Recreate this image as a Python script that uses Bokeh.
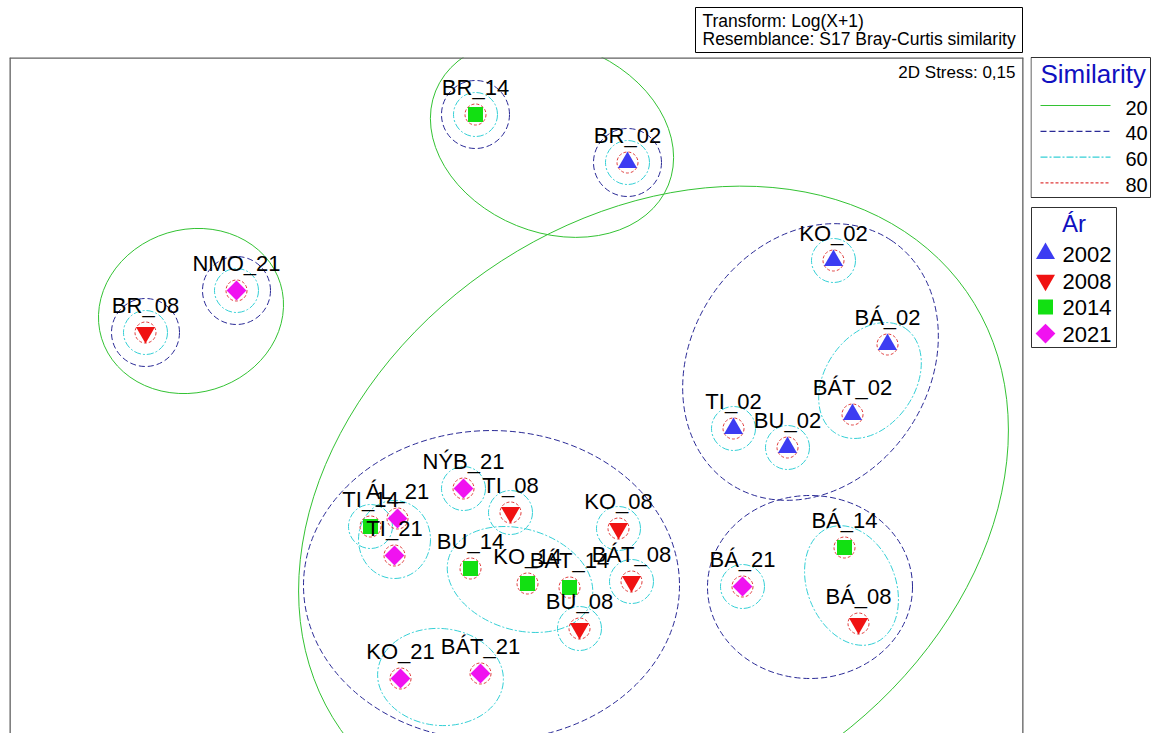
import numpy as np
from bokeh.plotting import figure
from bokeh.models import Range1d, Label, ColumnDataSource, Span
from bokeh.layouts import row, column
from bokeh.core.properties import value
from bokeh.embed import file_html
from bokeh.resources import INLINE

# ---------------- data (nMDS coordinates) ----------------
samples = ["BR_14", "BR_02", "NMO_21", "BR_08", "KO_02", "BÁ_02", "BÁT_02", "TI_02", "BU_02",
           "NÝB_21", "TI_08", "TI_14", "ÁL_21", "TI_21", "BU_14", "KO_14", "BÁT_14", "KO_08",
           "BÁT_08", "BU_08", "KO_21", "BÁT_21", "BÁ_14", "BÁ_21", "BÁ_08"]
mds_x = [-0.41, 1.11, -2.80, -3.71, 3.17, 3.71, 3.36, 2.17, 2.71,
         -0.53, -0.06, -1.46, -1.19, -1.22, -0.46, 0.11, 0.53, 1.02,
         1.15, 0.63, -1.16, -0.36, 3.28, 2.26, 3.42]
mds_y = [2.77, 2.29, 1.01, 0.59, 1.31, 0.47, -0.23, -0.37, -0.56,
         -0.97, -1.21, -1.35, -1.27, -1.64, -1.77, -1.92, -1.96, -1.37,
         -1.90, -2.37, -2.87, -2.82, -1.56, -1.95, -2.32]
years = ["2002", "2008", "2014", "2021"]
sample_year = ["20" + s.split("_")[1] for s in samples]

# cluster membership at each similarity level
sim20 = ["A", "A", "B", "B"] + ["C"] * 21
sim40 = ["s1", "s2", "s3", "s4", "D", "D", "D", "D", "D",
         "F", "F", "F", "F", "F", "F", "F", "F", "F", "F", "F", "F", "F", "E", "E", "E"]
sim60 = ["t1", "t2", "t3", "t4", "t5", "G", "G", "t6", "t7",
         "t8", "t9", "t10", "K", "K", "I", "I", "I", "t11", "t12", "t13", "J", "J", "H", "t14", "H"]
sim80 = ["u%d" % i for i in range(len(samples))]

# fitted cluster ellipses (centre, axes, rotation in degrees)
ell_id = ["A", "B", "C", "D", "E", "F", "G", "H", "I", "J", "K"]
ell_x = [0.355, -3.255, 1.37, 2.94, 2.935, -0.25, 3.535, 3.35, 0.035, -0.76, -1.22]
ell_y = [2.535, 0.805, -1.19, 0.295, -1.955, -1.94, 0.11, -1.94, -1.88, -2.855, -1.48]
ell_w = [2.51, 1.87, 7.64, 2.92, 2.05, 3.76, 1.26, 1.24, 1.49, 1.26, 0.72]
ell_h = [1.89, 1.63, 5.84, 2.38, 1.83, 3.10, 0.90, 0.88, 1.01, 0.97, 0.78]
ell_angle = [-22, 17, 35, 56.5, 0, 0, 56, -68, -17, -5, 0]

levels = ["20", "40", "60", "80"]
level_members = {"20": sim20, "40": sim40, "60": sim60, "80": sim80}
single_radius = {"20": 0.46, "40": 0.34, "60": 0.22, "80": 0.105}

header_lines = ["Transform: Log(X+1)", "Resemblance: S17 Bray-Curtis similarity"]
stress_text = "2D Stress: 0,15"

# ---------------- styles ----------------
FONT_NAME = "Liberation Sans"
FONT = value(FONT_NAME)
lvl_color = {"20": "#33c233", "40": "#2a2a96", "60": "#35d0d6", "80": "#e03a3a"}
lvl_dash = {"20": "solid", "40": "6 3", "60": "7 2 2 2", "80": "3 2"}
yr_color = {"2002": "#3c3cf2", "2008": "#f01212", "2014": "#12e012", "2021": "#f012f0"}
yr_marker = {"2002": "triangle", "2008": "inverted_triangle", "2014": "square", "2021": "square"}
yr_size = {"2002": 19, "2008": 19, "2014": 15, "2021": 14}
yr_angle = {"2002": 0, "2008": 0, "2014": 0, "2021": np.pi / 4}
TITLE_BLUE = "#1010c0"
FRAME_COLOR = "#606060"

X_RANGE = (-5.07, 5.07)
Y_RANGE = (-3.42, 3.34)


def blank(width, height, xr, yr_, **borders):
    f = figure(width=width, height=height, x_range=xr, y_range=yr_,
               x_axis_type=None, y_axis_type=None, output_backend="svg", toolbar_location=None,
               min_border_left=borders.get("left", 0), min_border_right=borders.get("right", 0),
               min_border_top=borders.get("top", 0), min_border_bottom=borders.get("bottom", 0))
    f.frame_align = False
    f.outline_line_color = None
    f.border_fill_color = "white"
    f.background_fill_color = "white"
    return f


# ---------------- header strip (pixel coordinates) ----------------
top = blank(1030, 56, Range1d(0, 1030), Range1d(56, 0))
top.quad(left=[695], right=[1022], top=[7], bottom=[52], fill_color="white", line_color="black",
         line_width=1)
top.text(x=[702, 702], y=[20, 38.5], text=header_lines, text_font=FONT, text_font_size="17.5px",
         text_baseline="middle", text_color="black")

# ---------------- main plot ----------------
p = blank(1030, 677, Range1d(*X_RANGE), Range1d(*Y_RANGE), left=9, right=7, top=1, bottom=0)
# frame drawn on three sides only (the bottom edge is cut off in the original)
for loc, dim in [(X_RANGE[0], "height"), (X_RANGE[1], "height"), (Y_RANGE[1], "width")]:
    p.add_layout(Span(location=loc, dimension=dim, line_color=FRAME_COLOR, line_width=2.6))

for lv in levels:
    members = level_members[lv]
    ids = [c for c in ell_id if members.count(c) > 1]
    idx = [ell_id.index(c) for c in ids]
    if idx:
        p.ellipse(x=[ell_x[i] for i in idx], y=[ell_y[i] for i in idx],
                  width=[ell_w[i] for i in idx], height=[ell_h[i] for i in idx],
                  angle=[ell_angle[i] for i in idx], angle_units="deg",
                  fill_color=None, line_color=lvl_color[lv], line_dash=lvl_dash[lv], line_width=1)
    sx = [mds_x[k] for k in range(len(samples)) if members.count(members[k]) == 1]
    sy = [mds_y[k] for k in range(len(samples)) if members.count(members[k]) == 1]
    if sx:
        d = 2 * single_radius[lv]
        p.ellipse(x=sx, y=sy, width=d, height=d, fill_color=None,
                  line_color=lvl_color[lv], line_dash=lvl_dash[lv], line_width=1)

for yr in years:
    ks = [k for k in range(len(samples)) if sample_year[k] == yr]
    p.scatter(x=[mds_x[k] for k in ks], y=[mds_y[k] for k in ks], marker=yr_marker[yr],
              size=yr_size[yr], angle=yr_angle[yr], fill_color=yr_color[yr], line_color=None)

src = ColumnDataSource(dict(x=mds_x, y=mds_y, name=samples))
p.text(x="x", y="y", text="name", source=src, text_align="center", text_baseline="alphabetic",
       y_offset=-27, text_font=FONT, text_font_size="22px", text_color="black")

p.add_layout(Label(x=1006, y=661, x_units="screen", y_units="screen", text=stress_text,
                   text_align="right", text_baseline="alphabetic", text_font=FONT_NAME,
                   text_font_size="17px", text_color="black"))

# ---------------- legend panel (pixel coordinates) ----------------
s = blank(126, 733, Range1d(0, 126), Range1d(733, 0))

s.quad(left=[0.5], right=[120], top=[57], bottom=[197], fill_color=None, line_color="#303030")
s.text(x=[10], y=[73], text=["Similarity"], text_font=FONT, text_font_size="26px",
       text_color=TITLE_BLUE, text_baseline="middle")
for i, lv in enumerate(levels):
    yy = 105 + i * 25.8
    s.segment(x0=[10], x1=[80], y0=[yy], y1=[yy], line_color=lvl_color[lv], line_dash=lvl_dash[lv],
              line_width=1.2)
    s.text(x=[95], y=[yy + 2], text=[lv], text_font=FONT, text_font_size="20px",
           text_baseline="middle", text_color="black")

s.quad(left=[1], right=[86], top=[207], bottom=[347], fill_color=None, line_color="#303030")
s.text(x=[43.5], y=[223], text=["Ár"], text_font=FONT, text_font_size="24px",
       text_color=TITLE_BLUE, text_align="center", text_baseline="middle")
for i, yr in enumerate(years):
    yy = 253 + i * 26.7
    s.scatter(x=[15], y=[yy], marker=yr_marker[yr], size=yr_size[yr], angle=yr_angle[yr],
              fill_color=yr_color[yr], line_color=None)
    s.text(x=[32], y=[yy + 1], text=[yr], text_font=FONT, text_font_size="22px",
           text_baseline="middle", text_color="black")

layout = row(column(top, p), s)
open("out.html", "w").write(file_html(layout, INLINE))
